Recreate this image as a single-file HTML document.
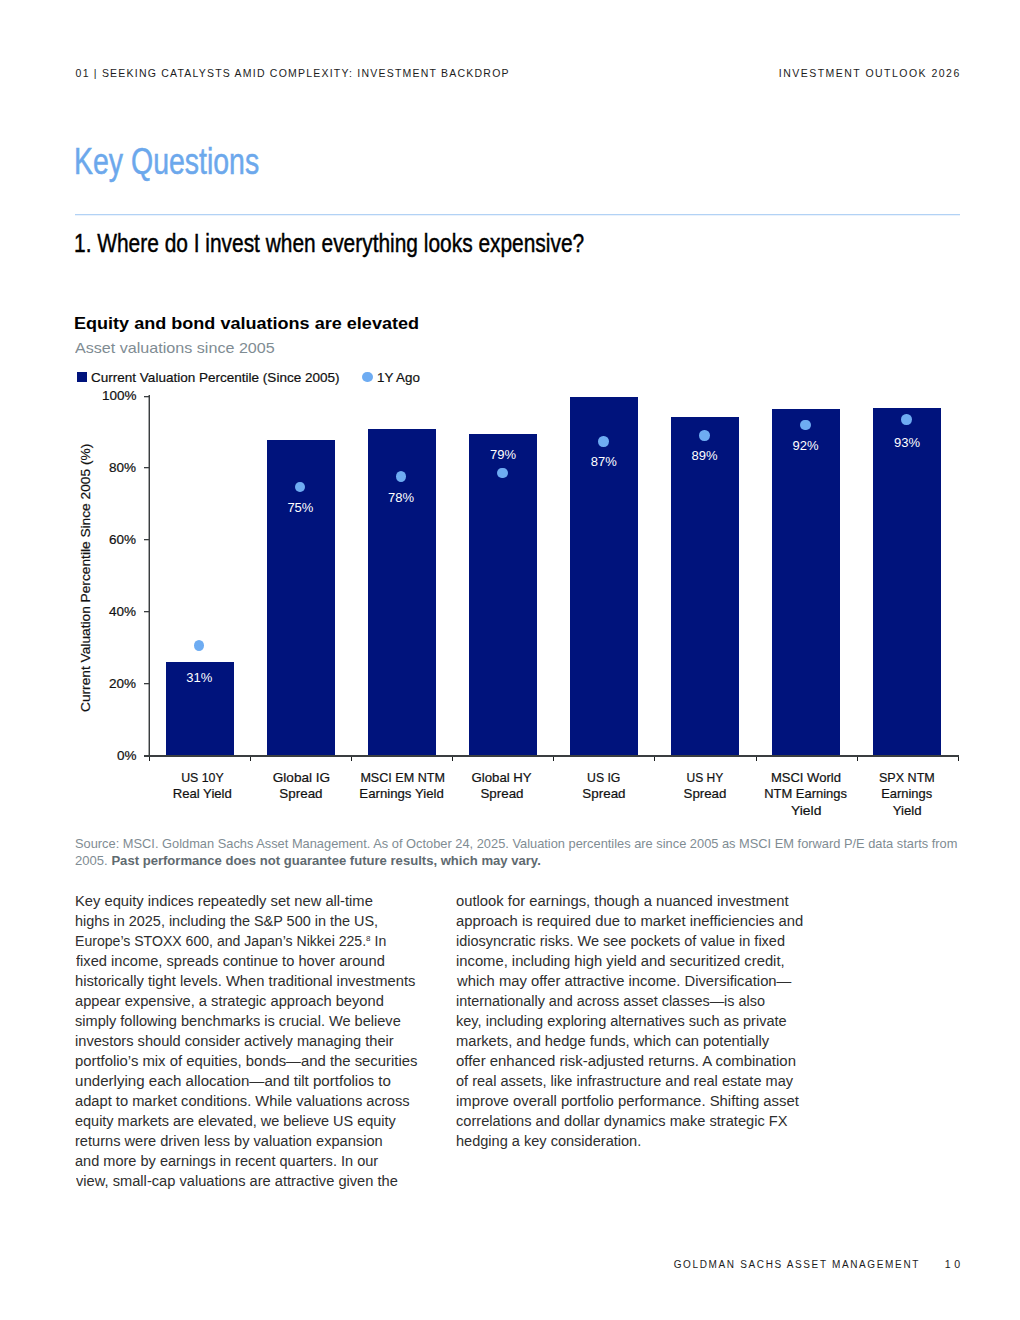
<!DOCTYPE html>
<html><head><meta charset="utf-8"><title>Investment Outlook 2026</title>
<style>html,body{margin:0;padding:0;background:#fff}body{width:1020px;height:1320px;position:relative;overflow:hidden;font-family:"Liberation Sans", sans-serif}</style>
</head><body>
<div style='position:absolute;left:75.00px;top:214.00px;width:885.00px;height:1.00px;background:#b2d2f5;'></div>
<div style='position:absolute;left:75.00px;top:215.00px;width:885.00px;height:1.00px;background:#eaf2fc;'></div>
<div style='position:absolute;left:77.00px;top:372.00px;width:10.00px;height:10.00px;background:#00137c;'></div>
<div style='position:absolute;left:362.20px;top:372.10px;width:10.40px;height:10.20px;background:#6eacf2;border-radius:50%'></div>
<div style='position:absolute;left:166.00px;top:662.00px;width:68.00px;height:94.00px;background:#00137c;'></div>
<div style='position:absolute;left:267.04px;top:440.00px;width:68.00px;height:316.00px;background:#00137c;'></div>
<div style='position:absolute;left:368.08px;top:429.40px;width:68.00px;height:326.60px;background:#00137c;'></div>
<div style='position:absolute;left:469.12px;top:434.10px;width:68.00px;height:321.90px;background:#00137c;'></div>
<div style='position:absolute;left:570.16px;top:397.20px;width:68.00px;height:358.80px;background:#00137c;'></div>
<div style='position:absolute;left:671.20px;top:416.60px;width:68.00px;height:339.40px;background:#00137c;'></div>
<div style='position:absolute;left:772.24px;top:409.30px;width:68.00px;height:346.70px;background:#00137c;'></div>
<div style='position:absolute;left:873.28px;top:408.10px;width:68.00px;height:347.90px;background:#00137c;'></div>
<div style='position:absolute;left:194.00px;top:639.85px;width:10.40px;height:10.90px;background:#6eacf2;border-radius:50%'></div>
<div style='position:absolute;left:295.04px;top:481.55px;width:10.40px;height:10.90px;background:#6eacf2;border-radius:50%'></div>
<div style='position:absolute;left:396.08px;top:471.05px;width:10.40px;height:10.90px;background:#6eacf2;border-radius:50%'></div>
<div style='position:absolute;left:497.12px;top:467.55px;width:10.40px;height:10.90px;background:#6eacf2;border-radius:50%'></div>
<div style='position:absolute;left:598.16px;top:435.65px;width:10.40px;height:10.90px;background:#6eacf2;border-radius:50%'></div>
<div style='position:absolute;left:699.20px;top:429.75px;width:10.40px;height:10.90px;background:#6eacf2;border-radius:50%'></div>
<div style='position:absolute;left:800.24px;top:419.55px;width:10.40px;height:10.90px;background:#6eacf2;border-radius:50%'></div>
<div style='position:absolute;left:901.28px;top:413.85px;width:10.40px;height:10.90px;background:#6eacf2;border-radius:50%'></div>
<div style='position:absolute;left:148.00px;top:395.00px;width:1.00px;height:362.00px;background:#3a3e40;opacity:0.45'></div>
<div style='position:absolute;left:149.00px;top:395.00px;width:1.00px;height:362.00px;background:#3a3e40;'></div>
<div style='position:absolute;left:144.00px;top:683.00px;width:5.00px;height:1.00px;background:#3a3e40;'></div>
<div style='position:absolute;left:144.00px;top:684.00px;width:5.00px;height:1.00px;background:#3a3e40;opacity:0.3'></div>
<div style='position:absolute;left:144.00px;top:611.00px;width:5.00px;height:1.00px;background:#3a3e40;'></div>
<div style='position:absolute;left:144.00px;top:612.00px;width:5.00px;height:1.00px;background:#3a3e40;opacity:0.3'></div>
<div style='position:absolute;left:144.00px;top:539.00px;width:5.00px;height:1.00px;background:#3a3e40;'></div>
<div style='position:absolute;left:144.00px;top:540.00px;width:5.00px;height:1.00px;background:#3a3e40;opacity:0.3'></div>
<div style='position:absolute;left:144.00px;top:467.00px;width:5.00px;height:1.00px;background:#3a3e40;'></div>
<div style='position:absolute;left:144.00px;top:468.00px;width:5.00px;height:1.00px;background:#3a3e40;opacity:0.3'></div>
<div style='position:absolute;left:144.00px;top:396.00px;width:5.00px;height:1.00px;background:#3a3e40;'></div>
<div style='position:absolute;left:144.00px;top:397.00px;width:5.00px;height:1.00px;background:#3a3e40;opacity:0.3'></div>
<div style='position:absolute;left:144.00px;top:755.00px;width:815.00px;height:2.00px;background:#3a3e40;'></div>
<div style='position:absolute;left:149.00px;top:757.00px;width:1.00px;height:4.00px;background:#1a1d1e;'></div>
<div style='position:absolute;left:250.00px;top:757.00px;width:1.00px;height:4.00px;background:#1a1d1e;'></div>
<div style='position:absolute;left:351.00px;top:757.00px;width:1.00px;height:4.00px;background:#1a1d1e;'></div>
<div style='position:absolute;left:452.00px;top:757.00px;width:1.00px;height:4.00px;background:#1a1d1e;'></div>
<div style='position:absolute;left:553.00px;top:757.00px;width:1.00px;height:4.00px;background:#1a1d1e;'></div>
<div style='position:absolute;left:654.00px;top:757.00px;width:1.00px;height:4.00px;background:#1a1d1e;'></div>
<div style='position:absolute;left:756.00px;top:757.00px;width:1.00px;height:4.00px;background:#1a1d1e;'></div>
<div style='position:absolute;left:857.00px;top:757.00px;width:1.00px;height:4.00px;background:#1a1d1e;'></div>
<div style='position:absolute;left:958.00px;top:757.00px;width:1.00px;height:4.00px;background:#1a1d1e;'></div>
<div style='position:absolute;left:75.60px;top:68.17px;color:#1c1c1c;font-family:"Liberation Sans", sans-serif;font-size:10.5px;line-height:10.5px;font-weight:400;white-space:nowrap;letter-spacing:1.214px;'>01 | SEEKING CATALYSTS AMID COMPLEXITY: INVESTMENT BACKDROP</div>
<div style='position:absolute;left:778.80px;top:68.17px;color:#1c1c1c;font-family:"Liberation Sans", sans-serif;font-size:10.5px;line-height:10.5px;font-weight:400;white-space:nowrap;letter-spacing:1.473px;'>INVESTMENT OUTLOOK 2026</div>
<div style='position:absolute;left:74.45px;top:144.15px;color:#6ca8ec;font-family:"Liberation Sans", sans-serif;font-size:36.3px;line-height:36.3px;font-weight:400;white-space:nowrap;transform:scaleX(0.7845);transform-origin:0 0;-webkit-text-stroke:0.5px #6ca8ec;'>Key Questions</div>
<div style='position:absolute;left:73.99px;top:230.79px;color:#000;font-family:"Liberation Sans", sans-serif;font-size:25.9px;line-height:25.9px;font-weight:400;white-space:nowrap;transform:scaleX(0.8075);transform-origin:0 0;-webkit-text-stroke:0.45px #000;'>1. Where do I invest when everything looks expensive?</div>
<div style='position:absolute;left:74.21px;top:314.68px;color:#000;font-family:"Liberation Sans", sans-serif;font-size:16.5px;line-height:16.5px;font-weight:700;white-space:nowrap;transform:scaleX(1.0939);transform-origin:0 0;'>Equity and bond valuations are elevated</div>
<div style='position:absolute;left:75.30px;top:339.75px;color:#7f8c93;font-family:"Liberation Sans", sans-serif;font-size:15px;line-height:15px;font-weight:400;white-space:nowrap;transform:scaleX(1.0741);transform-origin:0 0;'>Asset valuations since 2005</div>
<div style='position:absolute;left:90.66px;top:370.95px;color:#111;font-family:"Liberation Sans", sans-serif;font-size:13px;line-height:13px;font-weight:400;white-space:nowrap;transform:scaleX(1.0401);transform-origin:0 0;-webkit-text-stroke:0.2px #111;'>Current Valuation Percentile (Since 2005)</div>
<div style='position:absolute;left:376.97px;top:370.95px;color:#111;font-family:"Liberation Sans", sans-serif;font-size:13px;line-height:13px;font-weight:400;white-space:nowrap;transform:scaleX(1.0300);transform-origin:0 0;-webkit-text-stroke:0.2px #111;'>1Y Ago</div>
<div style='position:absolute;left:116.90px;top:748.73px;color:#111;font-family:"Liberation Sans", sans-serif;font-size:13.5px;line-height:13.5px;font-weight:400;white-space:nowrap;-webkit-text-stroke:0.2px #111;'>0%</div>
<div style='position:absolute;left:108.90px;top:676.73px;color:#111;font-family:"Liberation Sans", sans-serif;font-size:13.5px;line-height:13.5px;font-weight:400;white-space:nowrap;-webkit-text-stroke:0.2px #111;'>20%</div>
<div style='position:absolute;left:108.90px;top:604.73px;color:#111;font-family:"Liberation Sans", sans-serif;font-size:13.5px;line-height:13.5px;font-weight:400;white-space:nowrap;-webkit-text-stroke:0.2px #111;'>40%</div>
<div style='position:absolute;left:108.90px;top:532.73px;color:#111;font-family:"Liberation Sans", sans-serif;font-size:13.5px;line-height:13.5px;font-weight:400;white-space:nowrap;-webkit-text-stroke:0.2px #111;'>60%</div>
<div style='position:absolute;left:108.90px;top:460.72px;color:#111;font-family:"Liberation Sans", sans-serif;font-size:13.5px;line-height:13.5px;font-weight:400;white-space:nowrap;-webkit-text-stroke:0.2px #111;'>80%</div>
<div style='position:absolute;left:101.90px;top:388.72px;color:#111;font-family:"Liberation Sans", sans-serif;font-size:13.5px;line-height:13.5px;font-weight:400;white-space:nowrap;-webkit-text-stroke:0.2px #111;'>100%</div>
<div style='position:absolute;left:186.20px;top:671.25px;color:#ffffff;font-family:"Liberation Sans", sans-serif;font-size:13px;line-height:13px;font-weight:400;white-space:nowrap;'>31%</div>
<div style='position:absolute;left:287.40px;top:501.35px;color:#ffffff;font-family:"Liberation Sans", sans-serif;font-size:13px;line-height:13px;font-weight:400;white-space:nowrap;'>75%</div>
<div style='position:absolute;left:388.00px;top:490.75px;color:#ffffff;font-family:"Liberation Sans", sans-serif;font-size:13px;line-height:13px;font-weight:400;white-space:nowrap;'>78%</div>
<div style='position:absolute;left:490.00px;top:448.35px;color:#ffffff;font-family:"Liberation Sans", sans-serif;font-size:13px;line-height:13px;font-weight:400;white-space:nowrap;'>79%</div>
<div style='position:absolute;left:590.70px;top:455.15px;color:#ffffff;font-family:"Liberation Sans", sans-serif;font-size:13px;line-height:13px;font-weight:400;white-space:nowrap;'>87%</div>
<div style='position:absolute;left:691.50px;top:449.25px;color:#ffffff;font-family:"Liberation Sans", sans-serif;font-size:13px;line-height:13px;font-weight:400;white-space:nowrap;'>89%</div>
<div style='position:absolute;left:792.50px;top:439.05px;color:#ffffff;font-family:"Liberation Sans", sans-serif;font-size:13px;line-height:13px;font-weight:400;white-space:nowrap;'>92%</div>
<div style='position:absolute;left:894.10px;top:436.35px;color:#ffffff;font-family:"Liberation Sans", sans-serif;font-size:13px;line-height:13px;font-weight:400;white-space:nowrap;'>93%</div>
<div style='position:absolute;left:179.60px;top:770.95px;color:#111;font-family:"Liberation Sans", sans-serif;font-size:13px;line-height:13px;font-weight:400;white-space:nowrap;transform:scaleX(0.9500);transform-origin:23.00px 0;-webkit-text-stroke:0.2px #111;'>US 10Y</div>
<div style='position:absolute;left:173.10px;top:787.35px;color:#111;font-family:"Liberation Sans", sans-serif;font-size:13px;line-height:13px;font-weight:400;white-space:nowrap;transform:scaleX(1.0105);transform-origin:29.50px 0;-webkit-text-stroke:0.2px #111;'>Real Yield</div>
<div style='position:absolute;left:273.60px;top:770.95px;color:#111;font-family:"Liberation Sans", sans-serif;font-size:13px;line-height:13px;font-weight:400;white-space:nowrap;transform:scaleX(1.0434);transform-origin:27.50px 0;-webkit-text-stroke:0.2px #111;'>Global IG</div>
<div style='position:absolute;left:280.10px;top:787.35px;color:#111;font-family:"Liberation Sans", sans-serif;font-size:13px;line-height:13px;font-weight:400;white-space:nowrap;transform:scaleX(1.0300);transform-origin:21.00px 0;-webkit-text-stroke:0.2px #111;'>Spread</div>
<div style='position:absolute;left:358.90px;top:770.95px;color:#111;font-family:"Liberation Sans", sans-serif;font-size:13px;line-height:13px;font-weight:400;white-space:nowrap;transform:scaleX(0.9682);transform-origin:43.50px 0;-webkit-text-stroke:0.2px #111;'>MSCI EM NTM</div>
<div style='position:absolute;left:360.40px;top:787.35px;color:#111;font-family:"Liberation Sans", sans-serif;font-size:13px;line-height:13px;font-weight:400;white-space:nowrap;transform:scaleX(1.0159);transform-origin:42.00px 0;-webkit-text-stroke:0.2px #111;'>Earnings Yield</div>
<div style='position:absolute;left:472.20px;top:770.95px;color:#111;font-family:"Liberation Sans", sans-serif;font-size:13px;line-height:13px;font-weight:400;white-space:nowrap;transform:scaleX(1.0138);transform-origin:30.00px 0;-webkit-text-stroke:0.2px #111;'>Global HY</div>
<div style='position:absolute;left:481.20px;top:787.35px;color:#111;font-family:"Liberation Sans", sans-serif;font-size:13px;line-height:13px;font-weight:400;white-space:nowrap;transform:scaleX(1.0275);transform-origin:21.00px 0;-webkit-text-stroke:0.2px #111;'>Spread</div>
<div style='position:absolute;left:586.30px;top:770.95px;color:#111;font-family:"Liberation Sans", sans-serif;font-size:13px;line-height:13px;font-weight:400;white-space:nowrap;transform:scaleX(0.9412);transform-origin:18.00px 0;-webkit-text-stroke:0.2px #111;'>US IG</div>
<div style='position:absolute;left:583.30px;top:787.35px;color:#111;font-family:"Liberation Sans", sans-serif;font-size:13px;line-height:13px;font-weight:400;white-space:nowrap;transform:scaleX(1.0300);transform-origin:21.00px 0;-webkit-text-stroke:0.2px #111;'>Spread</div>
<div style='position:absolute;left:685.20px;top:770.95px;color:#111;font-family:"Liberation Sans", sans-serif;font-size:13px;line-height:13px;font-weight:400;white-space:nowrap;transform:scaleX(0.9263);transform-origin:20.00px 0;-webkit-text-stroke:0.2px #111;'>US HY</div>
<div style='position:absolute;left:684.20px;top:787.35px;color:#111;font-family:"Liberation Sans", sans-serif;font-size:13px;line-height:13px;font-weight:400;white-space:nowrap;transform:scaleX(1.0225);transform-origin:21.00px 0;-webkit-text-stroke:0.2px #111;'>Spread</div>
<div style='position:absolute;left:771.00px;top:770.95px;color:#111;font-family:"Liberation Sans", sans-serif;font-size:13px;line-height:13px;font-weight:400;white-space:nowrap;transform:scaleX(1.0029);transform-origin:35.00px 0;-webkit-text-stroke:0.2px #111;'>MSCI World</div>
<div style='position:absolute;left:764.00px;top:787.35px;color:#111;font-family:"Liberation Sans", sans-serif;font-size:13px;line-height:13px;font-weight:400;white-space:nowrap;transform:scaleX(0.9963);transform-origin:42.00px 0;-webkit-text-stroke:0.2px #111;'>NTM Earnings</div>
<div style='position:absolute;left:791.50px;top:803.75px;color:#111;font-family:"Liberation Sans", sans-serif;font-size:13px;line-height:13px;font-weight:400;white-space:nowrap;transform:scaleX(1.0667);transform-origin:14.50px 0;-webkit-text-stroke:0.2px #111;'>Yield</div>
<div style='position:absolute;left:878.20px;top:770.95px;color:#111;font-family:"Liberation Sans", sans-serif;font-size:13px;line-height:13px;font-weight:400;white-space:nowrap;transform:scaleX(0.9661);transform-origin:29.00px 0;-webkit-text-stroke:0.2px #111;'>SPX NTM</div>
<div style='position:absolute;left:881.20px;top:787.35px;color:#111;font-family:"Liberation Sans", sans-serif;font-size:13px;line-height:13px;font-weight:400;white-space:nowrap;transform:scaleX(0.9940);transform-origin:26.00px 0;-webkit-text-stroke:0.2px #111;'>Earnings</div>
<div style='position:absolute;left:892.70px;top:803.75px;color:#111;font-family:"Liberation Sans", sans-serif;font-size:13px;line-height:13px;font-weight:400;white-space:nowrap;transform:scaleX(1.0148);transform-origin:14.50px 0;-webkit-text-stroke:0.2px #111;'>Yield</div>
<div style='position:absolute;left:74.69px;top:837.91px;color:#7f8c93;font-family:"Liberation Sans", sans-serif;font-size:12.7px;line-height:12.7px;font-weight:400;white-space:nowrap;transform:scaleX(1.0118);transform-origin:0 0;'>Source: MSCI. Goldman Sachs Asset Management. As of October 24, 2025. Valuation percentiles are since 2005 as MSCI EM forward P/E data starts from</div>
<div style='position:absolute;left:74.67px;top:854.81px;color:#7f8c93;font-family:"Liberation Sans", sans-serif;font-size:12.7px;line-height:12.7px;font-weight:400;white-space:nowrap;transform:scaleX(1.0311);transform-origin:0 0;'>2005. <b style='color:#5f6a70'>Past performance does not guarantee future results, which may vary.</b></div>
<div style='position:absolute;left:74.85px;top:894.10px;color:#2e2e2e;font-family:"Liberation Sans", sans-serif;font-size:14px;line-height:14px;font-weight:400;white-space:nowrap;transform:scaleX(1.0514);transform-origin:0 0;'>Key equity indices repeatedly set new all-time</div>
<div style='position:absolute;left:74.87px;top:914.10px;color:#2e2e2e;font-family:"Liberation Sans", sans-serif;font-size:14px;line-height:14px;font-weight:400;white-space:nowrap;transform:scaleX(1.0312);transform-origin:0 0;'>highs in 2025, including the S&amp;P 500 in the US,</div>
<div style='position:absolute;left:74.89px;top:934.10px;color:#2e2e2e;font-family:"Liberation Sans", sans-serif;font-size:14px;line-height:14px;font-weight:400;white-space:nowrap;transform:scaleX(1.0055);transform-origin:0 0;'>Europe’s STOXX 600, and Japan’s Nikkei 225.<sup style='font-size:8px;vertical-align:0;position:relative;top:-5px'>8</sup> In</div>
<div style='position:absolute;left:75.90px;top:954.10px;color:#2e2e2e;font-family:"Liberation Sans", sans-serif;font-size:14px;line-height:14px;font-weight:400;white-space:nowrap;transform:scaleX(1.0469);transform-origin:0 0;'>fixed income, spreads continue to hover around</div>
<div style='position:absolute;left:74.85px;top:974.10px;color:#2e2e2e;font-family:"Liberation Sans", sans-serif;font-size:14px;line-height:14px;font-weight:400;white-space:nowrap;transform:scaleX(1.0540);transform-origin:0 0;'>historically tight levels. When traditional investments</div>
<div style='position:absolute;left:74.85px;top:994.10px;color:#2e2e2e;font-family:"Liberation Sans", sans-serif;font-size:14px;line-height:14px;font-weight:400;white-space:nowrap;transform:scaleX(1.0468);transform-origin:0 0;'>appear expensive, a strategic approach beyond</div>
<div style='position:absolute;left:74.86px;top:1014.10px;color:#2e2e2e;font-family:"Liberation Sans", sans-serif;font-size:14px;line-height:14px;font-weight:400;white-space:nowrap;transform:scaleX(1.0397);transform-origin:0 0;'>simply following benchmarks is crucial. We believe</div>
<div style='position:absolute;left:74.86px;top:1034.10px;color:#2e2e2e;font-family:"Liberation Sans", sans-serif;font-size:14px;line-height:14px;font-weight:400;white-space:nowrap;transform:scaleX(1.0447);transform-origin:0 0;'>investors should consider actively managing their</div>
<div style='position:absolute;left:74.84px;top:1054.10px;color:#2e2e2e;font-family:"Liberation Sans", sans-serif;font-size:14px;line-height:14px;font-weight:400;white-space:nowrap;transform:scaleX(1.0611);transform-origin:0 0;'>portfolio’s mix of equities, bonds—and the securities</div>
<div style='position:absolute;left:74.82px;top:1074.10px;color:#2e2e2e;font-family:"Liberation Sans", sans-serif;font-size:14px;line-height:14px;font-weight:400;white-space:nowrap;transform:scaleX(1.0767);transform-origin:0 0;'>underlying each allocation—and tilt portfolios to</div>
<div style='position:absolute;left:74.85px;top:1094.10px;color:#2e2e2e;font-family:"Liberation Sans", sans-serif;font-size:14px;line-height:14px;font-weight:400;white-space:nowrap;transform:scaleX(1.0487);transform-origin:0 0;'>adapt to market conditions. While valuations across</div>
<div style='position:absolute;left:74.87px;top:1114.10px;color:#2e2e2e;font-family:"Liberation Sans", sans-serif;font-size:14px;line-height:14px;font-weight:400;white-space:nowrap;transform:scaleX(1.0332);transform-origin:0 0;'>equity markets are elevated, we believe US equity</div>
<div style='position:absolute;left:74.86px;top:1134.10px;color:#2e2e2e;font-family:"Liberation Sans", sans-serif;font-size:14px;line-height:14px;font-weight:400;white-space:nowrap;transform:scaleX(1.0430);transform-origin:0 0;'>returns were driven less by valuation expansion</div>
<div style='position:absolute;left:74.86px;top:1154.10px;color:#2e2e2e;font-family:"Liberation Sans", sans-serif;font-size:14px;line-height:14px;font-weight:400;white-space:nowrap;transform:scaleX(1.0388);transform-origin:0 0;'>and more by earnings in recent quarters. In our</div>
<div style='position:absolute;left:75.90px;top:1174.10px;color:#2e2e2e;font-family:"Liberation Sans", sans-serif;font-size:14px;line-height:14px;font-weight:400;white-space:nowrap;transform:scaleX(1.0472);transform-origin:0 0;'>view, small-cap valuations are attractive given the</div>
<div style='position:absolute;left:455.54px;top:894.10px;color:#2e2e2e;font-family:"Liberation Sans", sans-serif;font-size:14px;line-height:14px;font-weight:400;white-space:nowrap;transform:scaleX(1.0575);transform-origin:0 0;'>outlook for earnings, though a nuanced investment</div>
<div style='position:absolute;left:455.54px;top:914.10px;color:#2e2e2e;font-family:"Liberation Sans", sans-serif;font-size:14px;line-height:14px;font-weight:400;white-space:nowrap;transform:scaleX(1.0580);transform-origin:0 0;'>approach is required due to market inefficiencies and</div>
<div style='position:absolute;left:455.57px;top:934.10px;color:#2e2e2e;font-family:"Liberation Sans", sans-serif;font-size:14px;line-height:14px;font-weight:400;white-space:nowrap;transform:scaleX(1.0345);transform-origin:0 0;'>idiosyncratic risks. We see pockets of value in fixed</div>
<div style='position:absolute;left:455.54px;top:954.10px;color:#2e2e2e;font-family:"Liberation Sans", sans-serif;font-size:14px;line-height:14px;font-weight:400;white-space:nowrap;transform:scaleX(1.0557);transform-origin:0 0;'>income, including high yield and securitized credit,</div>
<div style='position:absolute;left:456.60px;top:974.10px;color:#2e2e2e;font-family:"Liberation Sans", sans-serif;font-size:14px;line-height:14px;font-weight:400;white-space:nowrap;transform:scaleX(1.0568);transform-origin:0 0;'>which may offer attractive income. Diversification—</div>
<div style='position:absolute;left:455.57px;top:994.10px;color:#2e2e2e;font-family:"Liberation Sans", sans-serif;font-size:14px;line-height:14px;font-weight:400;white-space:nowrap;transform:scaleX(1.0284);transform-origin:0 0;'>internationally and across asset classes—is also</div>
<div style='position:absolute;left:455.56px;top:1014.10px;color:#2e2e2e;font-family:"Liberation Sans", sans-serif;font-size:14px;line-height:14px;font-weight:400;white-space:nowrap;transform:scaleX(1.0397);transform-origin:0 0;'>key, including exploring alternatives such as private</div>
<div style='position:absolute;left:455.55px;top:1034.10px;color:#2e2e2e;font-family:"Liberation Sans", sans-serif;font-size:14px;line-height:14px;font-weight:400;white-space:nowrap;transform:scaleX(1.0477);transform-origin:0 0;'>markets, and hedge funds, which can potentially</div>
<div style='position:absolute;left:455.53px;top:1054.10px;color:#2e2e2e;font-family:"Liberation Sans", sans-serif;font-size:14px;line-height:14px;font-weight:400;white-space:nowrap;transform:scaleX(1.0662);transform-origin:0 0;'>offer enhanced risk-adjusted returns. A combination</div>
<div style='position:absolute;left:455.56px;top:1074.10px;color:#2e2e2e;font-family:"Liberation Sans", sans-serif;font-size:14px;line-height:14px;font-weight:400;white-space:nowrap;transform:scaleX(1.0386);transform-origin:0 0;'>of real assets, like infrastructure and real estate may</div>
<div style='position:absolute;left:455.54px;top:1094.10px;color:#2e2e2e;font-family:"Liberation Sans", sans-serif;font-size:14px;line-height:14px;font-weight:400;white-space:nowrap;transform:scaleX(1.0618);transform-origin:0 0;'>improve overall portfolio performance. Shifting asset</div>
<div style='position:absolute;left:455.56px;top:1114.10px;color:#2e2e2e;font-family:"Liberation Sans", sans-serif;font-size:14px;line-height:14px;font-weight:400;white-space:nowrap;transform:scaleX(1.0440);transform-origin:0 0;'>correlations and dollar dynamics make strategic FX</div>
<div style='position:absolute;left:455.56px;top:1134.10px;color:#2e2e2e;font-family:"Liberation Sans", sans-serif;font-size:14px;line-height:14px;font-weight:400;white-space:nowrap;transform:scaleX(1.0392);transform-origin:0 0;'>hedging a key consideration.</div>
<div style='position:absolute;left:673.70px;top:1259.60px;color:#1c1c1c;font-family:"Liberation Sans", sans-serif;font-size:10px;line-height:10px;font-weight:400;white-space:nowrap;letter-spacing:1.641px;'>GOLDMAN SACHS ASSET MANAGEMENT</div>
<div style='position:absolute;left:944.70px;top:1259.09px;color:#1c1c1c;font-family:"Liberation Sans", sans-serif;font-size:10.6px;line-height:10.6px;font-weight:400;white-space:nowrap;letter-spacing:3.600px;'>10</div>
<div style='position:absolute;left:78.95px;top:712.26px;color:#111;-webkit-text-stroke:0.2px #111;font-family:"Liberation Sans", sans-serif;font-size:13px;line-height:13px;font-weight:400;white-space:nowrap;transform:rotate(-90deg) scaleX(1.0556);transform-origin:0 0;'>Current Valuation Percentile Since 2005 (%)</div>
</body></html>
